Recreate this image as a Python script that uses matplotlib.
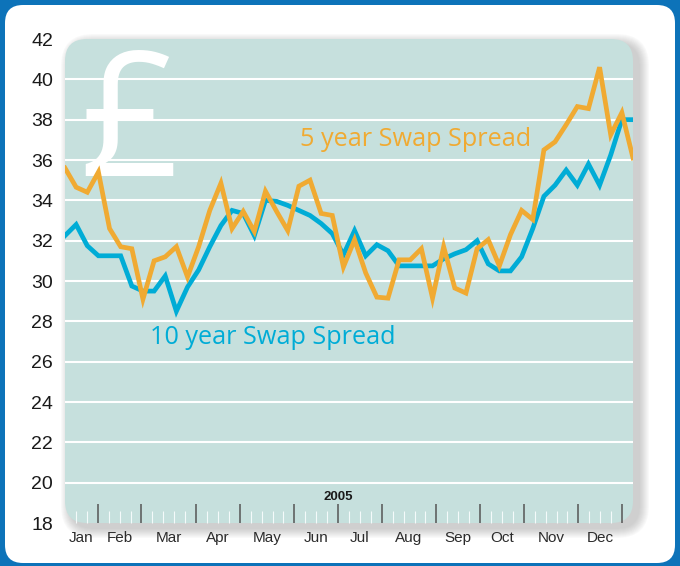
import matplotlib.pyplot as plt
import numpy as np
from matplotlib.patches import FancyBboxPatch
from matplotlib.transforms import IdentityTransform, blended_transform_factory

plt.rcParams['font.family'] = ['Liberation Sans Narrow', 'Liberation Sans', 'DejaVu Sans']

# weekly swap spreads, 2005 (52 weeks)
five_year = [35.6, 34.65, 34.4, 35.4, 32.6, 31.7, 31.6, 29.1, 31.0, 31.2, 31.7, 30.2,
             31.7, 33.5, 34.85, 32.6, 33.45, 32.45, 34.45, 33.45, 32.5, 34.7, 35.0, 33.35,
             33.25, 30.7, 32.05, 30.4, 29.2, 29.15, 31.05, 31.05, 31.6, 29.15, 31.7, 29.65,
             29.4, 31.6, 32.05, 30.75, 32.3, 33.5, 33.05, 36.5, 36.9, 37.75, 38.65, 38.55,
             40.6, 37.25, 38.35, 36.1]
ten_year = [32.25, 32.8, 31.75, 31.25, 31.25, 31.25, 29.75, 29.5, 29.5, 30.25, 28.5, 29.7,
            30.55, 31.7, 32.75, 33.5, 33.35, 32.25, 34.0, 33.95, 33.75, 33.5, 33.25, 32.85,
            32.35, 31.3, 32.5, 31.25, 31.8, 31.5, 30.75, 30.75, 30.75, 30.75, 31.1, 31.35,
            31.55, 32.0, 30.85, 30.5, 30.5, 31.2, 32.6, 34.2, 34.75, 35.5, 34.75, 35.8,
            34.75, 36.25, 38.0, 38.0]

months = ['Jan', 'Feb', 'Mar', 'Apr', 'May', 'Jun', 'Jul', 'Aug', 'Sep', 'Oct', 'Nov', 'Dec']
month_breaks = [0, 3, 7, 12, 16, 21, 25, 29, 34, 38, 42, 47, 51]  # week ticks
n_weeks = 52
y_ticks = list(range(18, 43, 2))

BLUE_FRAME = '#0d73b9'
PANEL = '#c6e0dd'
ORANGE = '#f0aa32'
CYAN = '#00acd6'

W, H = 680, 566
fig = plt.figure(figsize=(W / 100, H / 100), dpi=100, facecolor=BLUE_FRAME)

# white card
card = FancyBboxPatch((5, 3), W - 10, H - 8, boxstyle='round,pad=0,rounding_size=18',
                      transform=IdentityTransform(), facecolor='white', edgecolor='none')
fig.patches.append(card)

# plot area geometry (pixels)
px0, py0, pw, ph = 65, 43, 568, 484

# soft shadow, mostly to the right and below
for s in range(1, 11):
    sh = FancyBboxPatch((px0 + 6 - s, py0 - 5 - s), pw + 2 * s, ph + 2 * s,
                        boxstyle='round,pad=0,rounding_size=%d' % (22 + s),
                        transform=IdentityTransform(), facecolor='#6e6e6e',
                        edgecolor='none', alpha=0.035)
    fig.patches.append(sh)

area = FancyBboxPatch((px0, py0), pw, ph, boxstyle='round,pad=0,rounding_size=22',
                      transform=IdentityTransform(), facecolor=PANEL, edgecolor='none')
fig.patches.append(area)

ax = fig.add_axes([px0 / W, py0 / H, pw / W, ph / H])
ax.set_zorder(5)
ax.patch.set_visible(False)
for sp in ax.spines.values():
    sp.set_visible(False)

x = np.linspace(0, n_weeks, len(five_year))
ax.set_xlim(0, n_weeks)
ax.set_ylim(18, 42)

for v in y_ticks[1:-1]:
    ax.axhline(v, color='white', lw=1.5, zorder=1)

ax.text(1.3, 35.2, '£', fontsize=126, color='white', family='Open Sans',
        ha='left', va='baseline', zorder=1.5)

ax.plot(x, ten_year, color=CYAN, lw=3.4, solid_joinstyle='miter', zorder=3)
ax.plot(x, five_year, color=ORANGE, lw=3.4, solid_joinstyle='miter', zorder=4)

ax.text(21.5, 37.0, '5 year Swap Spread', color=ORANGE, fontsize=18.2,
        family='Open Sans', ha='left', va='center')
ax.text(7.8, 27.2, '10 year Swap Spread', color=CYAN, fontsize=18.2,
        family='Open Sans', ha='left', va='center')

# axis ticks
ax.set_yticks(y_ticks)
ax.tick_params(axis='y', length=0, pad=8.5, labelsize=14, labelcolor='#1a1a1a')
ax.set_xticks(month_breaks[1:])
ax.set_xticks([w for w in range(1, n_weeks) if w not in month_breaks], minor=True)
ax.tick_params(axis='x', which='major', direction='in', length=13.5, width=1.1,
               color='#555555', labelbottom=False)
ax.tick_params(axis='x', which='minor', direction='in', length=9, width=0.8,
               color='#f4fafa', labelbottom=False)

trans = blended_transform_factory(ax.transData, ax.transAxes)
for name, a, b in zip(months, month_breaks[:-1], month_breaks[1:]):
    ax.text((a + b) / 2, -0.03, name, transform=trans, ha='center', va='center',
            fontsize=11, color='#2b2b2b')
ax.text(25, 0.054, '2005', transform=trans, ha='center', va='center',
        fontsize=9.5, fontweight='bold', family='Liberation Sans', color='#1a1a1a')

fig.savefig('out.png', dpi=100, facecolor=BLUE_FRAME)
